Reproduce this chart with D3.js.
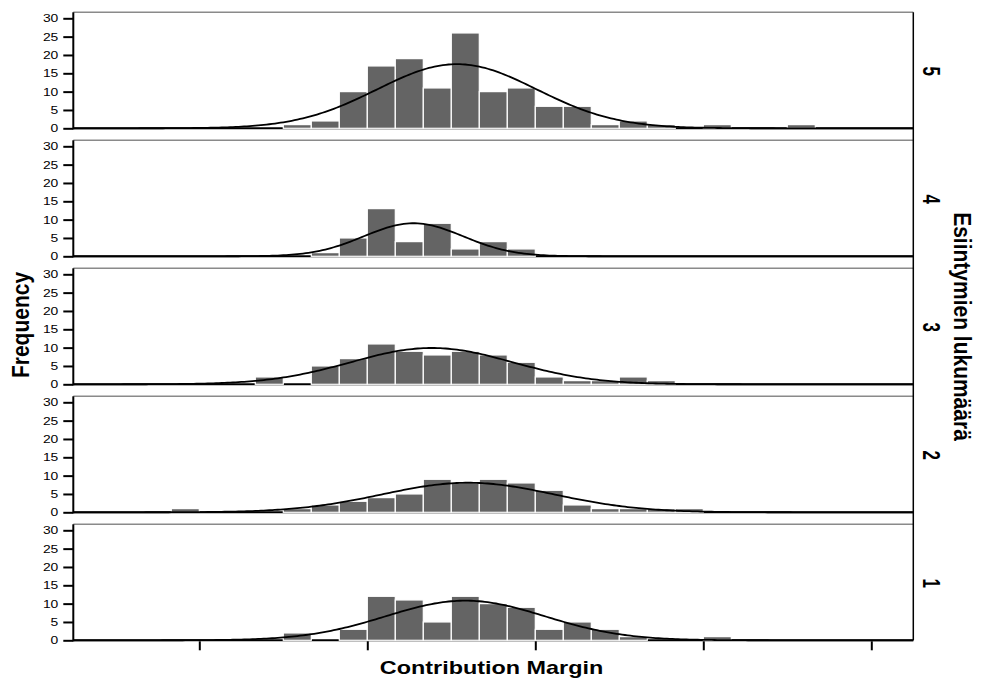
<!DOCTYPE html>
<html>
<head>
<meta charset="utf-8">
<script src="https://cdn.jsdelivr.net/npm/d3@7"></script>
<style>
  body { margin: 0; background: #fff; }
  text { font-family: "Liberation Sans", Arial, sans-serif; }
</style>
</head>
<body>
<svg id="chart" width="981" height="682"></svg>
<script>
// panels top to bottom
var panelLabels = ['5', '4', '3', '2', '1'];

// histogram bins (bin start, width 1)
var binStarts = [3, 4, 5, 6, 7, 8, 9, 10, 11, 12, 13, 14, 15, 16, 17, 18, 19, 20, 21, 22, 23, 24, 25];
var counts5 = [0, 0, 0, 0, 1, 2, 10, 17, 19, 11, 26, 10, 11, 6, 6, 1, 2, 1, 0, 1, 0, 0, 1];
var counts4 = [0, 0, 0, 0, 0, 1, 5, 13, 4, 9, 2, 4, 2, 0, 0, 0, 0, 0, 0, 0, 0, 0, 0];
var counts3 = [0, 0, 0, 2, 0, 5, 7, 11, 9, 8, 9, 8, 6, 2, 1, 1, 2, 1, 0, 0, 0, 0, 0];
var counts2 = [1, 0, 0, 0, 1, 2, 3, 4, 5, 9, 8, 9, 8, 6, 2, 1, 1, 1, 1, 0, 0, 0, 0];
var counts1 = [0, 0, 0, 0, 2, 0, 3, 12, 11, 5, 12, 10, 9, 3, 5, 3, 1, 0, 0, 1, 0, 0, 0];
var panelCounts = [counts5, counts4, counts3, counts2, counts1];

// normal curve: mean, sd, n
var curveMean = [13.2, 11.65, 12.3, 13.6, 13.5];
var curveSd = [2.85, 1.77, 2.9, 3.07, 2.84];
var curveN = [125, 40, 72, 62, 77];

var yTicks = [0, 5, 10, 15, 20, 25, 30];
var xTicks = [4, 10, 16, 22, 28];

var svg = d3.select('#chart');
var left = 73.3, right = 913.3;
var x = d3.scaleLinear().domain([-0.5, 29.5]).range([left, right]);

function panelTop(i) { return 12.3 + 128 * i; }

function normal(v, m, s, n) {
    return n / (s * Math.sqrt(2 * Math.PI)) * Math.exp(-0.5 * ((v - m) / s) * ((v - m) / s));
}

panelLabels.forEach(function(lab, i) {
    var T = panelTop(i);
    var y = d3.scaleLinear().domain([0, 30]).range([T + 116, T + 6]);
    var g = svg.append('g');

    // frame top
    g.append('line')
        .attr('x1', left).attr('x2', right)
        .attr('y1', T).attr('y2', T)
        .attr('stroke', '#8a8a8a').attr('stroke-width', 1.5);

    // baseline
    g.append('line')
        .attr('x1', left).attr('x2', right)
        .attr('y1', y(0)).attr('y2', y(0))
        .attr('stroke', '#000').attr('stroke-width', 2);

    var bins = binStarts.map((b, k) => ({ start: b, val: panelCounts[i][k] }))
        .filter(d => d.val > 0);

    g.selectAll('rect')
        .data(bins)
        .enter()
        .append('rect')
        .attr('x', d => x(d.start))
        .attr('width', d => x(d.start + 1) - x(d.start))
        .attr('y', d => y(d.val))
        .attr('height', d => y(0) - y(d.val))
        .attr('fill', '#646464')
        .attr('stroke', '#fff')
        .attr('stroke-width', 1.2);

    var pts = d3.range(-0.5, 29.51, 0.1);
    var line = d3.line()
        .x(v => x(v))
        .y(v => y(normal(v, curveMean[i], curveSd[i], curveN[i])));
    g.append('path')
        .attr('d', line(pts))
        .attr('fill', 'none')
        .attr('stroke', '#000')
        .attr('stroke-width', 1.8);

    // left axis
    g.append('line')
        .attr('x1', left).attr('x2', left)
        .attr('y1', T).attr('y2', y(0) + 1)
        .attr('stroke', '#000').attr('stroke-width', 2);

    var ax = g.append('g')
        .attr('transform', `translate(${left},0)`)
        .call(d3.axisLeft(y).tickValues(yTicks).tickSize(10).tickPadding(4));
    ax.select('.domain').remove();
    ax.selectAll('.tick line').attr('stroke', '#000').attr('stroke-width', 2);
    ax.selectAll('.tick text')
        .attr('x', null)
        .attr('dy', null)
        .attr('dominant-baseline', 'central')
        .attr('transform', 'translate(-15,0) scale(1.32,1)')
        .style('font-size', '10.5px')
        .style('font-family', '"Liberation Sans", Arial, sans-serif')
        .attr('fill', '#000');

    // panel label
    g.append('text')
        .attr('transform', `translate(923,${T + 59}) scale(1.4,1) rotate(90)`)
        .attr('text-anchor', 'middle')
        .style('font-size', '17px')
        .style('font-weight', 'bold')
        .text(lab);
});

// right border
svg.append('line')
    .attr('x1', right).attr('x2', right)
    .attr('y1', panelTop(0)).attr('y2', panelTop(4) + 116)
    .attr('stroke', '#000').attr('stroke-width', 1.5);

// bottom axis ticks
var bx = svg.append('g')
    .attr('transform', `translate(0,${panelTop(4) + 117})`)
    .call(d3.axisBottom(x).tickValues(xTicks).tickSize(9).tickFormat(''));
bx.select('.domain').remove();
bx.selectAll('.tick line').attr('stroke', '#000').attr('stroke-width', 2);

// titles
svg.append('text')
    .attr('transform', 'translate(491.5,674) scale(1.3,1)')
    .attr('text-anchor', 'middle')
    .style('font-size', '18px')
    .style('font-weight', 'bold')
    .text('Contribution Margin');

svg.append('text')
    .attr('transform', 'translate(29,325) scale(1.12,1) rotate(-90)')
    .attr('text-anchor', 'middle')
    .style('font-size', '21px')
    .style('font-weight', 'bold')
    .text('Frequency');

svg.append('text')
    .attr('transform', 'translate(954,326.5) scale(1.12,1) rotate(90)')
    .attr('text-anchor', 'middle')
    .style('font-size', '21px')
    .style('font-weight', 'bold')
    .text('Esiintymien lukumäärä');
</script>
</body>
</html>
